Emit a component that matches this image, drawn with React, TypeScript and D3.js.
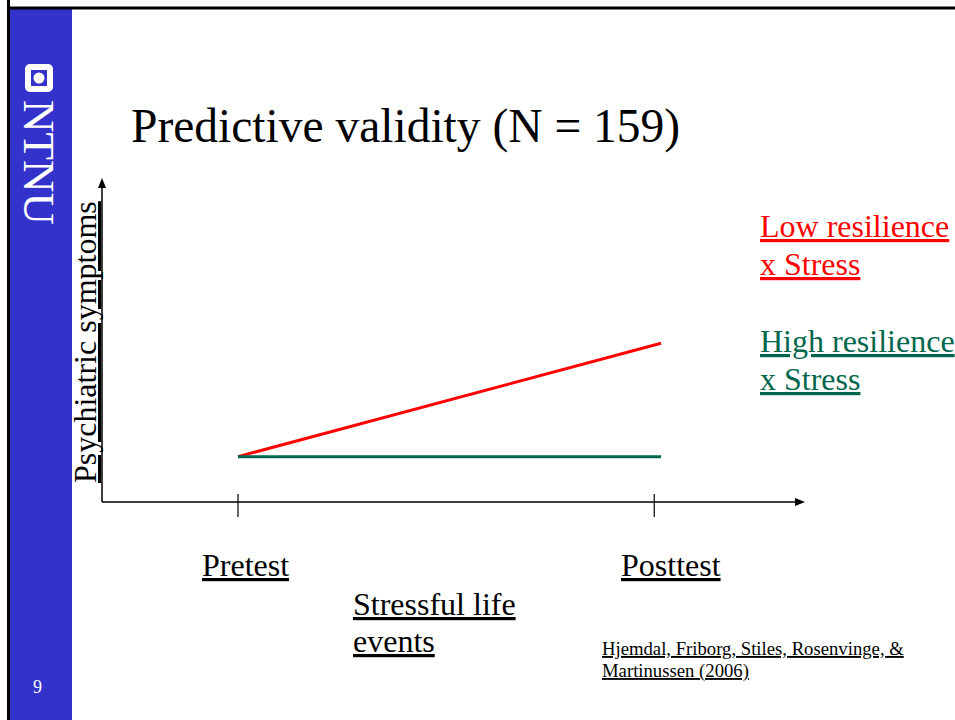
import * as d3 from 'd3';

const slideTitle = 'Predictive validity (N = 159)';
const yLabel = 'Psychiatric symptoms';
const xLabelLines = ['Stressful life', 'events'];
const timeLabels = ['Pretest', 'Posttest'];
const timeValues = [0, 1];
const tickValues = [0, 0.984];
const lowResilience = [1.4, 4.9];
const highResilience = [1.4, 1.4];
const seriesLabels = [
  ['Low resilience', 'x Stress'],
  ['High resilience', 'x Stress'],
];
const citationLines = ['Hjemdal, Friborg, Stiles, Rosenvinge, &', 'Martinussen (2006)'];

const WIDTH = 955;
const HEIGHT = 720;
const FONT = '"Liberation Serif", "Times New Roman", serif';
const BLUE = '#3333cc';
const RED = '#ff0000';
const GREEN = '#00664c';
const FRAME = { left: 102, right: 805, top: 178, bottom: 502 };

export default function App() {
  const x = d3.scaleLinear().domain([0, 1]).range([238, 661]);
  const y = d3.scaleLinear().domain([0, 10]).range([FRAME.bottom, FRAME.top]);

  const line = d3
    .line<number>()
    .x((_d: number, i: number) => x(timeValues[i]))
    .y((d: number) => y(d));

  const series = [
    { values: lowResilience, color: RED, labels: seriesLabels[0], y0: 237 },
    { values: highResilience, color: GREEN, labels: seriesLabels[1], y0: 352 },
  ];

  const labelX = [202, 621];

  return (
    <svg
      width={WIDTH}
      height={HEIGHT}
      style={{ position: 'absolute', left: 0, top: 0, background: '#fff' }}
      fontFamily={FONT}
    >
      {/* slide frame */}
      <rect x={10} y={9} width={62} height={HEIGHT - 9} fill={BLUE} />
      <line x1={8.5} y1={0} x2={8.5} y2={HEIGHT} stroke="#000" strokeWidth={3} />
      <line x1={7} y1={8} x2={WIDTH} y2={8} stroke="#000" strokeWidth={3} />

      {/* NTNU logo */}
      <rect x={25} y={64} width={28} height={28} rx={5} fill="#fff" />
      <rect x={31} y={70} width={16} height={16} fill={BLUE} />
      <circle cx={39} cy={78} r={5.5} fill="#fff" />
      <text
        transform="translate(24,100) rotate(90)"
        fontSize={45}
        fill="#fff"
      >
        NTNU
      </text>
      <text x={37.5} y={693} fontSize={18} fill="#fff" textAnchor="middle">
        9
      </text>

      <text x={131} y={142} fontSize={47.5} fill="#000">
        {slideTitle}
      </text>

      {/* axes */}
      <line x1={FRAME.left} y1={FRAME.bottom} x2={FRAME.left} y2={FRAME.top + 8} stroke="#000" strokeWidth={1.5} />
      <path d={`M${FRAME.left},${FRAME.top} l-4,10 l8,0 z`} fill="#000" />
      <line x1={FRAME.left} y1={FRAME.bottom} x2={FRAME.right - 9} y2={FRAME.bottom} stroke="#000" strokeWidth={1.5} />
      <path d={`M${FRAME.right},${FRAME.bottom} l-10,-4 l0,8 z`} fill="#000" />
      {tickValues.map((t) => (
        <line key={t} x1={x(t)} x2={x(t)} y1={FRAME.bottom - 8} y2={FRAME.bottom + 15} stroke="#000" strokeWidth={1.2} />
      ))}

      <text
        transform={`translate(96,483) rotate(-90)`}
        fontSize={32}
        fill="#000"
        textDecoration="underline"
      >
        {yLabel}
      </text>

      {timeLabels.map((t, i) => (
        <text key={t} x={labelX[i]} y={576} fontSize={32} fill="#000" textDecoration="underline">
          {t}
        </text>
      ))}
      {xLabelLines.map((t, i) => (
        <text key={t} x={353} y={615 + i * 37} fontSize={32} fill="#000" textDecoration="underline">
          {t}
        </text>
      ))}

      {/* series */}
      {series.map((s) => (
        <path key={s.color} d={line(s.values) ?? ''} fill="none" stroke={s.color} strokeWidth={3} />
      ))}

      {series.map((s) =>
        s.labels.map((t, i) => (
          <text
            key={s.color + t}
            x={760}
            y={s.y0 + i * 38}
            fontSize={32}
            fill={s.color}
            textDecoration="underline"
          >
            {t}
          </text>
        ))
      )}

      {citationLines.map((t, i) => (
        <text key={t} x={602} y={655 + i * 22} fontSize={18.7} fill="#000" textDecoration="underline">
          {t}
        </text>
      ))}
    </svg>
  );
}
